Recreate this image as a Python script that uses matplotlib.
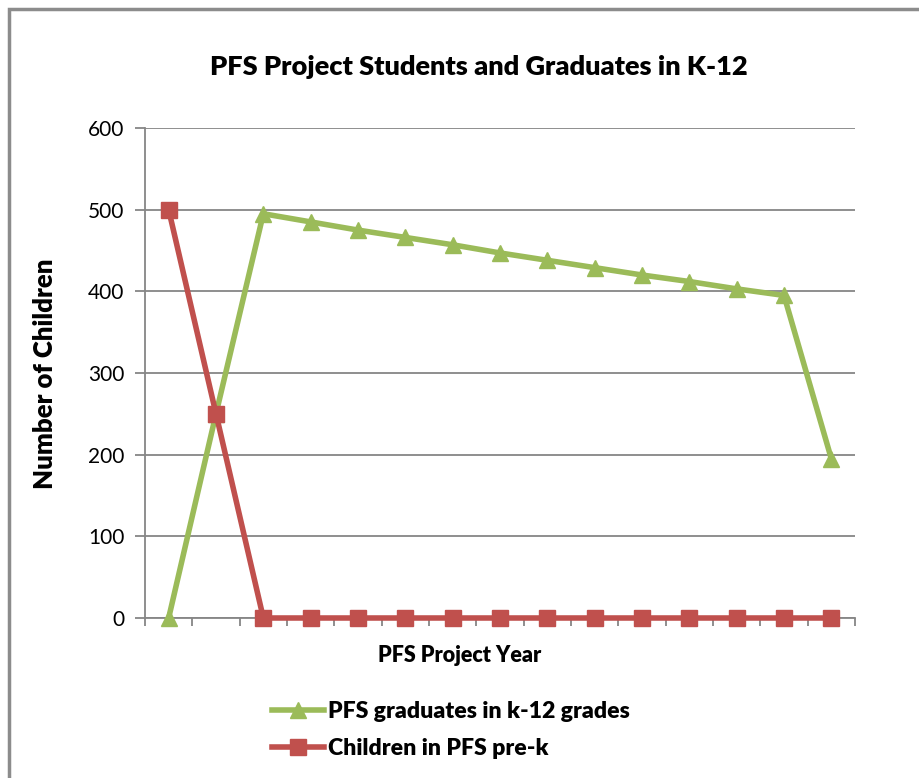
import matplotlib
matplotlib.use("Agg")
import matplotlib.pyplot as plt
from matplotlib.lines import Line2D
from matplotlib.patches import Rectangle
import numpy as np

title = "PFS Project Students and Graduates in K-12"
xlabel = "PFS Project Year"
ylabel = "Number of Children"
series_names = ["PFS graduates in k-12 grades", "Children in PFS pre-k"]
graduates = [0, 250, 495, 485, 475, 466, 457, 447, 438, 429, 420, 412, 403, 395, 195]
prek = [500, 250, 0, 0, 0, 0, 0, 0, 0, 0, 0, 0, 0, 0, 0]
yticks = [0, 100, 200, 300, 400, 500, 600]

green = "#9BBB59"
red = "#C0504D"
grid = "#868686"

plt.rcParams['font.family'] = ['Lato', 'DejaVu Sans']

W, H = 919, 778
fig = plt.figure(figsize=(W / 100, H / 100), dpi=100)
fig.patches.append(Rectangle((9 / W, -0.01), 1.1, 1 - 9 / H + 0.01, transform=fig.transFigure,
                             fill=False, edgecolor="#8c8c8c", linewidth=2.5))

ax = fig.add_axes([145 / W, 1 - 618 / H, 710 / W, 490 / H])
n = len(graduates)
x = np.arange(n)
ax.set_xlim(-0.5, n - 0.5)
ax.set_ylim(0, 600)

ax.plot(x, graduates, color=green, lw=4, marker="^", ms=12, mfc=green, mec=green, zorder=3, clip_on=False)
ax.plot(x, prek, color=red, lw=4, marker="s", ms=11, mfc=red, mec=red, zorder=4, clip_on=False)

ax.set_yticks(yticks)
ax.set_yticklabels([str(v) for v in yticks], fontsize=15)
ax.yaxis.grid(True, color=grid, lw=1.3)
ax.set_axisbelow(True)
ax.set_xticks(np.arange(n + 1) - 0.5)
ax.set_xticklabels([])
ax.tick_params(axis="x", length=6, width=1.3, color=grid, direction="out")
ax.tick_params(axis="y", length=7, width=1.3, color=grid, direction="out", pad=8)
for s in ["top", "right"]:
    ax.spines[s].set_visible(False)
for s in ["left", "bottom"]:
    ax.spines[s].set_color(grid)
    ax.spines[s].set_linewidth(1.3)

fig.text(479 / W, 1 - 67 / H, title, ha="center", va="center", fontsize=19.5, fontweight="heavy")
fig.text(460 / W, 1 - 656 / H, xlabel, ha="center", va="center", fontsize=15.5, fontweight="heavy")
fig.text(45 / W, 1 - 374 / H, ylabel, ha="center", va="center", fontsize=18.5, fontweight="heavy", rotation=90)

handles = [Line2D([], [], color=green, lw=4, marker="^", ms=12),
           Line2D([], [], color=red, lw=4, marker="s", ms=11)]
leg = fig.legend(handles, series_names, loc="center left", bbox_to_anchor=(251 / W, 1 - 730 / H),
                 frameon=False, handlelength=2.25, handletextpad=0.2, labelspacing=0.7,
                 prop={"size": 16.6, "weight": "heavy"})

fig.savefig("out.png", dpi=100)
